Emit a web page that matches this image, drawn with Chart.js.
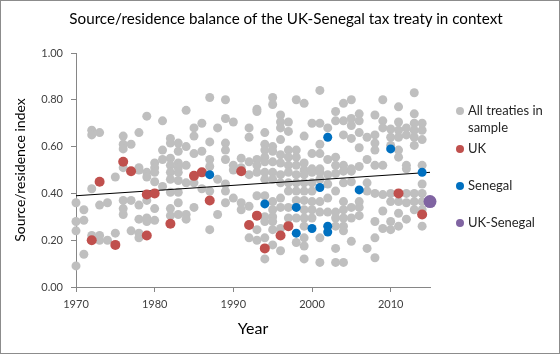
<!DOCTYPE html>
<html>
<head>
<meta charset="utf-8">
<script src="https://cdn.jsdelivr.net/npm/chart.js@4.4.1/dist/chart.umd.min.js"></script>
<style>
  body { margin: 0; background: #fff; }
  #wrap { position: relative; width: 560px; height: 354px; font-family: Lato, sans-serif; }
  #frame { position: absolute; left: 0; top: 0; width: 560px; height: 354px; box-sizing: border-box; border: 1px solid #8c8c8c; pointer-events: none; }
  #title { position: absolute; left: 0; width: 572px; top: 9px; text-align: center; font-size: 15.2px; color: #000; white-space: nowrap; }
  #legend { position: absolute; left: 455px; top: 102px; font-size: 13px; color: #262626; }
  .item { position: absolute; left: 0; white-space: nowrap; line-height: 17px; }
  .dot { position: absolute; left: 1px; width: 8px; height: 8px; border-radius: 50%; top: 5px; }
  .item span.t { padding-left: 13px; display: block; }
</style>
</head>
<body>
<div id="wrap">
  <canvas id="chart" width="560" height="354"></canvas>
  <div id="title">Source/residence balance of the UK-Senegal tax treaty in context</div>
  <div id="legend"></div>
  <div id="frame"></div>
</div>
<script>
// all treaties in the sample: [year, source/residence index]
const allTreaties = [
  [1970,0.36],[1970,0.28],[1970,0.24],[1970,0.09],
  [1971,0.33],[1971,0.285],[1971,0.14],
  [1972,0.67],[1972,0.65],[1972,0.42],[1972,0.22],
  [1973,0.66],[1973,0.35],[1973,0.22],[1973,0.20],
  [1974,0.36],[1974,0.20],
  [1975,0.47],[1975,0.23],
  [1976,0.645],[1976,0.61],[1976,0.59],[1976,0.51],[1976,0.37],[1976,0.335],[1976,0.31],
  [1977,0.61],[1977,0.37],[1977,0.24],
  [1978,0.66],[1978,0.51],[1978,0.50],[1978,0.35],[1978,0.29],[1978,0.23],[1978,0.21],
  [1979,0.73],[1979,0.49],[1979,0.47],[1979,0.37],[1979,0.295],[1979,0.28],
  [1980,0.53],[1980,0.51],[1980,0.49],[1980,0.45],[1980,0.335],[1980,0.285],
  [1981,0.71],[1981,0.585],[1981,0.545],[1981,0.43],
  [1982,0.635],[1982,0.615],[1982,0.55],[1982,0.52],[1982,0.49],[1982,0.46],[1982,0.405],[1982,0.335],[1982,0.305],
  [1983,0.615],[1983,0.58],[1983,0.53],[1983,0.51],[1983,0.49],[1983,0.455],[1983,0.405],[1983,0.36],[1983,0.31],
  [1984,0.755],[1984,0.60],[1984,0.52],[1984,0.445],[1984,0.31],[1984,0.29],
  [1985,0.68],[1985,0.645],[1985,0.57],[1985,0.445],[1985,0.34],
  [1986,0.70],[1986,0.58],[1986,0.42],
  [1987,0.81],[1987,0.62],[1987,0.545],[1987,0.515],[1987,0.41],[1987,0.245],
  [1988,0.68],[1988,0.46],[1988,0.31],
  [1989,0.80],[1989,0.72],[1989,0.615],[1989,0.585],[1989,0.545],[1989,0.44],[1989,0.41],[1989,0.36],
  [1990,0.705],[1990,0.52],[1990,0.50],[1990,0.38],
  [1991,0.55],[1991,0.51],[1991,0.36],[1991,0.33],
  [1992,0.68],[1992,0.64],[1992,0.535],[1992,0.48],[1992,0.345],[1992,0.21],
  [1993,0.76],[1993,0.75],[1993,0.545],[1993,0.52],[1993,0.49],[1993,0.39],[1993,0.245],[1993,0.20],
  [1994,0.66],[1994,0.61],[1994,0.585],[1994,0.555],[1994,0.535],[1994,0.49],[1994,0.46],[1994,0.39],[1994,0.30],[1994,0.28],[1994,0.21],[1994,0.12],
  [1995,0.81],[1995,0.78],[1995,0.60],[1995,0.58],[1995,0.535],[1995,0.49],[1995,0.46],[1995,0.365],[1995,0.33],[1995,0.30],[1995,0.28],[1995,0.245],[1995,0.18],
  [1996,0.735],[1996,0.705],[1996,0.68],[1996,0.63],[1996,0.565],[1996,0.53],[1996,0.48],[1996,0.445],[1996,0.38],[1996,0.34],[1996,0.25],[1996,0.155],
  [1997,0.705],[1997,0.665],[1997,0.585],[1997,0.555],[1997,0.52],[1997,0.49],[1997,0.445],[1997,0.41],[1997,0.34],[1997,0.295],
  [1998,0.80],[1998,0.585],[1998,0.555],[1998,0.52],[1998,0.48],[1998,0.445],[1998,0.41],[1998,0.37],[1998,0.295],[1998,0.19],
  [1999,0.785],[1999,0.645],[1999,0.53],[1999,0.50],[1999,0.48],[1999,0.445],[1999,0.41],[1999,0.37],[1999,0.33],[1999,0.295],[1999,0.26],[1999,0.21],[1999,0.175],[1999,0.12],
  [2000,0.70],[2000,0.57],[2000,0.505],[2000,0.49],[2000,0.445],[2000,0.41],[2000,0.365],[2000,0.33],[2000,0.295],
  [2001,0.84],[2001,0.70],[2001,0.61],[2001,0.57],[2001,0.505],[2001,0.49],[2001,0.46],[2001,0.365],[2001,0.32],[2001,0.21],[2001,0.105],
  [2002,0.68],[2002,0.545],[2002,0.48],[2002,0.44],[2002,0.38],[2002,0.32],
  [2003,0.75],[2003,0.71],[2003,0.555],[2003,0.52],[2003,0.485],[2003,0.41],[2003,0.32],[2003,0.295],[2003,0.26],[2003,0.165],[2003,0.105],
  [2004,0.785],[2004,0.71],[2004,0.65],[2004,0.52],[2004,0.495],[2004,0.445],[2004,0.365],[2004,0.33],[2004,0.295],[2004,0.26],[2004,0.24],[2004,0.105],
  [2005,0.80],[2005,0.72],[2005,0.69],[2005,0.635],[2005,0.505],[2005,0.495],[2005,0.45],[2005,0.34],[2005,0.295],[2005,0.195],
  [2006,0.74],[2006,0.71],[2006,0.66],[2006,0.595],[2006,0.515],[2006,0.365],[2006,0.34],[2006,0.305],
  [2007,0.64],[2007,0.545],[2007,0.445],[2007,0.41],[2007,0.165],
  [2008,0.735],[2008,0.65],[2008,0.615],[2008,0.585],[2008,0.52],[2008,0.40],[2008,0.28],[2008,0.21],[2008,0.125],
  [2009,0.80],[2009,0.71],[2009,0.68],[2009,0.52],[2009,0.395],[2009,0.325],[2009,0.25],
  [2010,0.675],[2010,0.64],[2010,0.605],[2010,0.40],[2010,0.365],[2010,0.28],[2010,0.245],
  [2011,0.77],[2011,0.705],[2011,0.67],[2011,0.64],[2011,0.585],[2011,0.555],[2011,0.365],[2011,0.315],[2011,0.26],
  [2012,0.68],[2012,0.65],[2012,0.52],[2012,0.505],[2012,0.40],[2012,0.36],[2012,0.29],
  [2013,0.83],[2013,0.74],[2013,0.70],[2013,0.67],[2013,0.64],[2013,0.605],[2013,0.40],[2013,0.365],[2013,0.33],
  [2014,0.70],[2014,0.67],[2014,0.63],[2014,0.52],[2014,0.44],[2014,0.40],[2014,0.365],[2014,0.33],[2014,0.26]
];

const ukYears  = [1972, 1973, 1975, 1976, 1977, 1979, 1979, 1980, 1982, 1985, 1986, 1987, 1991, 1992, 1993, 1994, 1996, 1997, 2011, 2014];
const ukIndex  = [0.20, 0.45, 0.18, 0.535, 0.495, 0.395, 0.22, 0.40, 0.27, 0.475, 0.49, 0.37, 0.495, 0.265, 0.305, 0.165, 0.22, 0.26, 0.40, 0.31];

const senegalYears = [1987, 1994, 1998, 1998, 2000, 2001, 2002, 2002, 2002, 2006, 2010, 2014];
const senegalIndex = [0.48, 0.355, 0.34, 0.23, 0.25, 0.425, 0.64, 0.26, 0.235, 0.415, 0.59, 0.49];

const ukSenegalYears = [2015];
const ukSenegalIndex = [0.365];

// linear trend over all treaties
const trendYears = [1970, 2015];
const trendIndex = [0.39, 0.49];

const xTicks = [1970, 1980, 1990, 2000, 2010];

const toPoints = (xs, ys) => xs.map((x, i) => ({ x: x, y: ys[i] }));

const GREY = '#bfbfbf', RED = '#c0504d', BLUE = '#0070c0', PURPLE = '#8064a2';
const FONT = 'Lato, sans-serif';

new Chart(document.getElementById('chart'), {
  type: 'scatter',
  data: {
    datasets: [
      { label: 'UK-Senegal', data: toPoints(ukSenegalYears, ukSenegalIndex), backgroundColor: PURPLE, borderWidth: 0, pointRadius: 6.5, order: 1, clip: false },
      { label: 'Senegal', data: toPoints(senegalYears, senegalIndex), backgroundColor: BLUE, borderWidth: 0, pointRadius: 4.5, order: 2, clip: false },
      { label: 'UK', data: toPoints(ukYears, ukIndex), backgroundColor: RED, borderWidth: 0, pointRadius: 5, order: 3, clip: false },
      { label: 'Trend', data: toPoints(trendYears, trendIndex), showLine: true, borderColor: '#000', borderWidth: 1, pointRadius: 0, order: 4 },
      { label: 'All treaties in sample', data: allTreaties.map(p => ({ x: p[0], y: p[1] })), backgroundColor: GREY, borderWidth: 0, pointRadius: 4.5, order: 5, clip: false }
    ]
  },
  options: {
    responsive: false,
    animation: false,
    layout: { padding: { left: 0, right: 130, top: 53, bottom: 0 } },
    plugins: {
      legend: { display: false },
      tooltip: { enabled: false },
      title: { display: false }
    },
    scales: {
      x: {
        type: 'linear',
        min: 1970,
        max: 2015,
        afterBuildTicks: s => { s.ticks = xTicks.map(v => ({ value: v })); },
        afterFit: s => { s.height = 67; },
        border: { color: '#868686', width: 1 },
        grid: { drawOnChartArea: false, drawTicks: true, tickLength: 5, color: '#868686' },
        ticks: { color: '#404040', font: { family: FONT, size: 11 }, padding: 6, maxRotation: 0, callback: v => String(v) },
        title: { display: true, text: 'Year', color: '#000', font: { family: FONT, size: 16 }, padding: { top: 4, bottom: 16 } }
      },
      y: {
        min: 0,
        max: 1,
        ticks: { stepSize: 0.2, color: '#404040', font: { family: FONT, size: 11 }, padding: 8, callback: v => v.toFixed(2) },
        afterFit: s => { s.width = 76; },
        border: { color: '#868686', width: 1 },
        grid: { drawOnChartArea: false, drawTicks: true, tickLength: 5, color: '#868686' },
        title: { display: true, text: 'Source/residence index', color: '#000', font: { family: FONT, size: 14 }, padding: { top: 12, bottom: 0 } }
      }
    }
  }
});

// legend on the right, as in the original
const legendItems = [
  { color: GREY, lines: ['All treaties in', 'sample'], top: 0 },
  { color: RED, lines: ['UK'], top: 38 },
  { color: BLUE, lines: ['Senegal'], top: 75 },
  { color: PURPLE, lines: ['UK-Senegal'], top: 112 }
];
const legend = document.getElementById('legend');
legendItems.forEach(it => {
  const d = document.createElement('div');
  d.className = 'item';
  d.style.top = it.top + 'px';
  d.innerHTML = '<i class="dot" style="background:' + it.color + '"></i>' +
    it.lines.map(l => '<span class="t">' + l + '</span>').join('');
  legend.appendChild(d);
});
</script>
</body>
</html>
